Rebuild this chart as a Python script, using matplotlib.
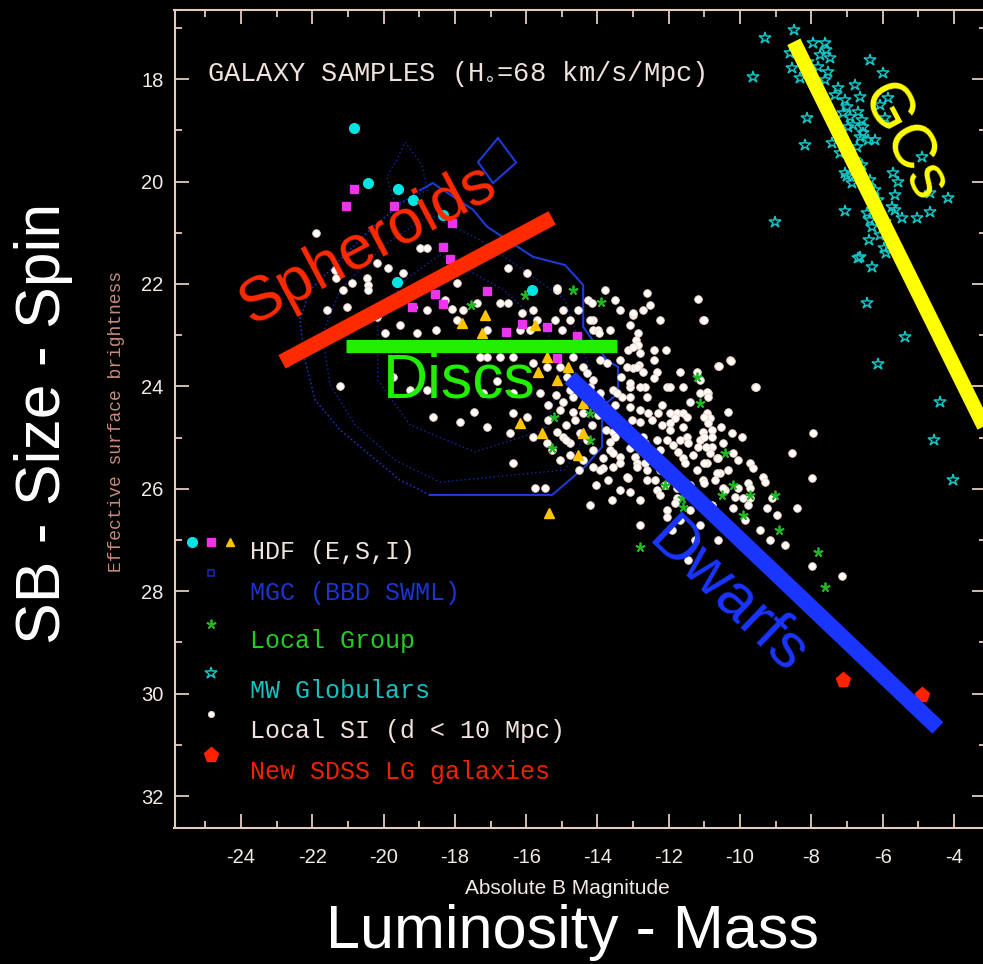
import matplotlib
matplotlib.use("Agg")
import matplotlib.pyplot as plt
from matplotlib.ticker import MultipleLocator

plt.rcParams['font.family'] = ['Liberation Sans', 'DejaVu Sans']
plt.rcParams['axes.unicode_minus'] = False

# Local SI galaxies (d < 10 Mpc): (M_B, effective SB)
local_si = [
    (-15.13, 22.12), (-14.26, 22.31), (-14.15, 22.37), (-12.61, 22.18), (-11.18, 22.29),
    (-11.04, 22.70), (-12.72, 22.51), (-13.00, 22.60), (-13.09, 22.80), (-14.96, 22.51),
    (-14.54, 22.51), (-15.19, 22.70), (-14.77, 22.70), (-14.12, 22.70), (-14.12, 22.90),
    (-13.98, 22.90), (-14.99, 22.90), (-12.86, 22.96), (-12.92, 23.09), (-12.86, 23.19),
    (-13.14, 23.29), (-12.41, 23.29), (-12.08, 23.29), (-10.28, 23.49), (-10.62, 23.60),
    (-12.41, 23.49), (-12.83, 23.58), (-13.00, 23.64), (-12.72, 23.72), (-12.33, 23.72),
    (-12.41, 23.84), (-11.69, 23.72), (-11.21, 23.72), (-12.05, 24.01), (-11.97, 24.01),
    (-11.60, 24.01), (-11.12, 23.88), (-9.58, 24.01), (-13.09, 24.01), (-12.67, 24.01),
    (-13.31, 24.21), (-13.09, 24.21), (-12.61, 24.21), (-11.12, 24.13), (-10.90, 24.13),
    (-11.40, 24.31), (-12.19, 24.36), (-13.09, 24.40), (-12.81, 24.46), (-13.51, 24.36),
    (-11.97, 24.52), (-11.77, 24.52), (-11.60, 24.52), (-11.83, 24.62), (-11.49, 24.60),
    (-10.93, 24.52), (-10.84, 24.62), (-10.34, 24.50), (-12.58, 24.52), (-12.30, 24.52),
    (-13.03, 24.66), (-12.81, 24.70), (-13.59, 24.66), (-11.97, 24.72), (-11.97, 24.85),
    (-11.60, 24.79), (-11.04, 24.89), (-10.79, 24.85), (-10.23, 24.91), (-9.95, 24.99),
    (-7.96, 24.91), (-13.56, 24.89), (-13.51, 24.99), (-12.72, 24.99), (-12.67, 25.11),
    (-12.33, 25.05), (-12.25, 25.24), (-12.05, 25.05), (-11.88, 25.14), (-11.74, 25.28),
    (-11.49, 24.99), (-11.46, 25.11), (-11.12, 25.05), (-11.18, 25.18), (-10.79, 25.18),
    (-10.84, 25.30), (-10.48, 25.11), (-8.54, 25.30), (-13.65, 25.09), (-13.65, 25.24),
    (-13.09, 25.20), (-12.95, 25.38), (-13.37, 25.38), (-13.37, 25.50), (-12.89, 25.50),
    (-12.67, 25.50), (-12.61, 25.63), (-12.33, 25.38), (-11.60, 25.40), (-11.54, 25.50),
    (-11.21, 25.63), (-10.93, 25.50), (-10.65, 25.40), (-10.56, 25.69), (-10.20, 25.30),
    (-9.72, 25.50), (-9.64, 25.59), (-9.35, 25.77), (-9.30, 25.87), (-7.99, 25.79),
    (-13.85, 25.59), (-13.14, 25.79), (-12.61, 25.83), (-12.39, 25.83), (-12.11, 25.93),
    (-11.77, 25.98), (-11.40, 25.93), (-11.04, 25.83), (-12.33, 26.03), (-12.25, 26.12),
    (-11.77, 26.18), (-11.83, 26.28), (-10.42, 26.03), (-10.14, 26.16), (-9.92, 26.18),
    (-9.72, 26.18), (-9.78, 26.32), (-9.10, 26.18), (-8.40, 26.37), (-9.24, 26.37),
    (-8.96, 26.51), (-10.20, 26.37), (-14.21, 26.32), (-12.81, 26.71), (-12.05, 26.42),
    (-12.05, 26.55), (-11.91, 26.81), (-10.62, 27.00), (-8.74, 27.10), (-7.99, 27.50),
    (-7.15, 27.70), (-11.46, 27.39),
    (-21.89, 21.00), (-21.22, 23.99), (-21.36, 21.72), (-21.33, 21.88), (-21.14, 22.12),
    (-20.88, 21.98), (-21.02, 22.45), (-21.59, 22.51), (-20.46, 21.88), (-20.44, 22.02),
    (-20.44, 22.12), (-20.18, 21.59), (-19.88, 21.69), (-19.46, 21.79), (-18.98, 21.30),
    (-18.78, 21.30), (-18.08, 20.81), (-17.94, 21.98), (-18.28, 22.31), (-18.08, 22.49),
    (-18.78, 22.51), (-19.18, 22.45), (-19.54, 22.80), (-19.96, 22.96), (-19.07, 22.96),
    (-20.18, 22.64), (-17.94, 22.70), (-17.77, 22.51), (-17.38, 22.37), (-17.10, 22.90),
    (-16.73, 22.37), (-16.51, 22.37), (-16.51, 21.69), (-15.97, 21.79), (-16.11, 22.56),
    (-15.81, 22.51), (-15.69, 22.70), (-16.17, 22.90), (-15.89, 22.90), (-15.13, 22.08),
    (-14.21, 22.70), (-13.96, 22.96), (-18.53, 22.90), (-17.30, 23.43), (-17.10, 23.43),
    (-16.73, 23.43), (-16.37, 23.43), (-15.81, 23.54), (-15.42, 23.62), (-15.05, 23.62),
    (-14.68, 23.43), (-14.40, 23.62), (-14.85, 23.82), (-14.57, 23.88), (-14.29, 23.74),
    (-14.12, 23.88), (-13.93, 23.49), (-13.73, 23.54), (-13.00, 22.56), (-13.00, 23.23),
    (-12.81, 23.35), (-13.37, 23.49), (-13.17, 23.62), (-12.89, 23.62), (-12.81, 24.01),
    (-13.34, 23.82), (-13.09, 23.93), (-13.56, 24.07), (-13.45, 24.13), (-13.93, 24.13),
    (-13.93, 24.27), (-14.21, 24.01), (-14.40, 24.13), (-14.77, 24.07), (-14.68, 24.21),
    (-14.96, 24.31), (-15.05, 24.46), (-14.68, 24.50), (-14.40, 24.52), (-16.37, 24.52),
    (-15.97, 24.60), (-17.47, 24.50), (-17.86, 24.69), (-18.62, 24.60), (-17.10, 24.79),
    (-16.45, 24.91), (-15.81, 24.99), (-15.42, 25.11), (-14.96, 24.99), (-14.77, 25.11),
    (-14.49, 24.91), (-14.29, 25.05), (-14.12, 25.24), (-14.12, 25.57), (-14.40, 25.44),
    (-13.56, 25.30), (-12.89, 25.57), (-13.56, 25.57), (-13.17, 25.77), (-16.37, 25.50),
    (-15.75, 25.98), (-15.47, 25.98), (-19.74, 23.82), (-19.26, 24.07), (-18.78, 24.07),
    (-16.81, 23.90), (-15.61, 24.13), (-16.37, 24.13), (-17.21, 24.13),
    (-11.01, 22.70), (-10.59, 23.60), (-10.25, 23.50), (-9.55, 24.01), (-10.93, 24.11),
    (-10.90, 24.21), (-11.01, 24.60), (-10.90, 24.72), (-10.54, 24.79), (-11.01, 24.99),
    (-10.79, 24.99), (-10.96, 25.18), (-10.62, 25.40), (-11.01, 25.50), (-10.65, 25.69),
    (-11.01, 25.89), (-9.78, 25.89), (-9.72, 25.98), (-10.48, 25.98), (-10.06, 25.98),
    (-15.39, 24.36), (-15.16, 24.17), (-14.88, 24.75), (-14.63, 24.66), (-14.15, 24.75),
    (-13.98, 24.56), (-13.76, 24.85), (-15.27, 25.24), (-15.05, 25.44), (-14.77, 25.34),
    (-14.52, 25.63), (-13.93, 25.63), (-13.70, 25.83), (-14.04, 25.93), (-13.37, 26.02),
    (-13.59, 26.22), (-13.09, 26.06), (-12.81, 26.22), (-13.85, 25.40), (-14.88, 25.05),
    (-15.39, 24.66), (-15.13, 24.89), (-12.47, 24.66), (-12.19, 24.75), (-11.69, 25.05),
    (-11.32, 25.34), (-11.04, 26.22), (-10.79, 26.31), (-11.40, 26.41), (-11.69, 26.61),
    (-11.12, 26.71), (-10.56, 26.61), (-10.28, 26.80), (-9.86, 26.61), (-9.44, 26.80),
    (-9.16, 27.00), (-10.00, 27.00), (-11.26, 27.00), (-12.39, 25.34), (-12.81, 25.24),
    (-12.25, 25.63), (-10.70, 25.83), (-10.34, 25.63), (-10.06, 25.44), (-13.79, 22.12),
    (-13.51, 22.31), (-13.37, 22.51), (-12.53, 22.41), (-12.25, 22.70), (-13.65, 22.90),
]

# Milky Way globular clusters
mw_globulars = [
    (-8.49, 17.04), (-9.30, 17.19), (-9.63, 17.95), (-7.96, 17.30), (-7.62, 17.30),
    (-7.59, 17.43), (-8.60, 17.49), (-8.54, 17.78), (-8.32, 17.98), (-7.82, 17.76),
    (-7.54, 17.86), (-7.62, 18.01), (-7.26, 18.17), (-6.78, 18.11), (-6.64, 18.35),
    (-6.36, 17.62), (-5.99, 17.88), (-5.85, 18.37), (-6.08, 18.50), (-7.00, 18.54),
    (-6.92, 18.74), (-7.12, 18.66), (-6.84, 18.89), (-6.98, 18.93), (-6.56, 18.93),
    (-6.56, 19.05), (-6.64, 19.13), (-6.72, 19.32), (-5.93, 18.76), (-8.12, 18.76),
    (-8.18, 19.28), (-7.42, 19.24), (-7.20, 19.44), (-7.00, 19.90), (-6.86, 20.03),
    (-7.06, 19.83), (-5.71, 19.83), (-5.57, 20.01), (-4.90, 19.52), (-4.67, 20.23),
    (-4.17, 20.32), (-7.06, 20.57), (-6.44, 20.61), (-6.36, 20.75), (-6.30, 20.88),
    (-5.74, 20.49), (-5.65, 20.55), (-5.04, 20.71), (-4.67, 20.59), (-9.02, 20.79),
    (-6.39, 21.14), (-5.97, 21.30), (-5.91, 21.39), (-6.64, 21.47), (-6.69, 21.49),
    (-6.30, 21.67), (-6.44, 22.37), (-5.37, 23.03), (-6.13, 23.56), (-4.39, 24.30),
    (-4.56, 25.05), (-4.03, 25.83),
    (-7.76, 17.52), (-7.48, 17.58), (-8.09, 17.66), (-7.34, 18.31), (-7.06, 18.40),
    (-6.69, 18.64), (-6.58, 18.80), (-6.41, 19.19), (-6.78, 19.58), (-6.58, 19.67),
    (-6.36, 19.97), (-6.22, 20.17), (-6.13, 20.36), (-5.93, 20.79), (-6.08, 21.04),
    (-5.79, 21.14), (-5.46, 20.71), (-5.65, 20.26), (-6.22, 19.19),
]

# Local Group dwarfs
local_group = [
    (-14.68, 22.12), (-13.90, 22.35), (-11.21, 23.82), (-11.12, 24.32), (-15.22, 24.59),
    (-14.21, 24.52), (-15.28, 25.20), (-14.21, 25.05), (-10.42, 25.30), (-12.11, 25.93),
    (-11.63, 26.18), (-11.60, 26.36), (-10.51, 26.12), (-10.20, 25.93), (-9.72, 26.12),
    (-9.92, 26.51), (-9.02, 26.12), (-8.91, 26.81), (-7.82, 27.23), (-7.62, 27.92),
    (-12.81, 27.14), (-16.02, 22.21), (-17.56, 22.41),
]

# HDF ellipticals, spirals, irregulars
hdf_e = [(-20.83, 18.95), (-20.44, 20.03), (-19.60, 20.14), (-19.18, 20.36),
         (-18.34, 20.65), (-19.62, 21.96), (-15.83, 22.12)]
hdf_s = [(-20.83, 20.15), (-21.06, 20.48), (-19.71, 20.48), (-18.34, 21.28),
         (-18.14, 21.51), (-18.56, 22.19), (-18.34, 22.39), (-19.21, 22.45),
         (-17.10, 22.14), (-16.56, 22.93), (-16.11, 22.78), (-15.41, 22.84),
         (-14.57, 23.01), (-15.13, 23.44), (-18.08, 20.81)]
hdf_i = [(-17.80, 22.76), (-17.16, 22.60), (-17.24, 22.96), (-15.75, 22.80),
         (-15.42, 23.43), (-15.67, 23.72), (-15.13, 23.88), (-16.17, 24.72),
         (-15.55, 24.91), (-14.41, 24.32), (-14.55, 25.34), (-14.83, 23.62),
         (-14.41, 24.91), (-15.36, 26.47)]

# New SDSS Local Group galaxies
sdss_new = [(-7.11, 29.73), (-4.90, 30.03)]

# MGC bivariate brightness distribution contours
mgc_outer_solid = [
    (-18.98, 20.17), (-18.62, 20.03), (-17.49, 20.55), (-17.10, 20.88), (-15.81, 21.47),
    (-14.91, 21.63), (-14.40, 22.02), (-14.40, 22.84), (-13.73, 23.49), (-13.42, 23.62),
    (-13.42, 24.13), (-13.87, 24.40), (-13.87, 25.18), (-14.35, 25.57), (-15.27, 26.12),
    (-18.70, 26.12),
]
mgc_outer_dotted = [
    (-18.70, 26.12), (-19.54, 25.83), (-20.38, 25.34), (-21.22, 24.85), (-21.92, 24.27),
    (-22.20, 23.49), (-22.35, 22.70), (-22.06, 22.12), (-21.22, 21.53), (-20.38, 20.94),
    (-19.54, 20.45), (-18.98, 20.17),
]
mgc_diamond = [(-16.79, 19.15), (-16.28, 19.63), (-16.93, 20.03), (-17.35, 19.62), (-16.79, 19.15)]
mgc_spike = [(-19.40, 19.23), (-18.93, 19.67), (-18.76, 20.17), (-19.68, 20.45),
             (-19.91, 19.91), (-19.63, 19.58), (-19.40, 19.23)]
mgc_ring2 = [
    (-18.70, 20.65), (-17.30, 21.14), (-15.89, 21.82), (-14.91, 22.31), (-14.54, 23.09),
    (-14.07, 23.88), (-14.26, 24.85), (-14.91, 25.63), (-18.42, 25.87), (-19.68, 25.44),
    (-20.80, 24.75), (-21.50, 23.97), (-21.72, 22.99), (-21.22, 22.12), (-19.96, 21.23),
    (-18.70, 20.65),
]
mgc_ring3 = [
    (-18.42, 21.43), (-16.62, 22.12), (-15.41, 22.90), (-15.02, 23.88), (-15.50, 24.85),
    (-17.44, 25.28), (-19.26, 24.75), (-20.16, 23.88), (-20.16, 22.70), (-19.40, 21.92),
    (-18.42, 21.43),
]

# sequence guide lines: (start, end) in (M_B, SB)
spheroid_line = [(-22.85, 23.52), (-15.27, 20.71)]
disc_line = [(-21.05, 23.21), (-13.45, 23.21)]
dwarf_line = [(-14.77, 23.83), (-4.45, 30.67)]
gc_line = [(-8.49, 17.27), (-2.71, 25.41)]

legend_rows = ['HDF (E,S,I)', 'MGC (BBD SWML)', 'Local Group', 'MW Globulars',
               'Local SI (d < 10 Mpc)', 'New SDSS LG galaxies']

axis_col = '#e4cbc0'
label_col = '#f3e9e5'
mono = ['Liberation Mono', 'DejaVu Sans Mono']


def split(points):
    return [p[0] for p in points], [p[1] for p in points]


fig = plt.figure(figsize=(9.83, 9.64), dpi=100, facecolor='black')
ax = fig.add_axes([174.5 / 983, 1 - 828.3 / 964, 811.5 / 983, 818.3 / 964])
ax.set_facecolor('black')
ax.set_xlim(-25.865, -3.10)
ax.set_ylim(32.63, 16.65)

for spine in ax.spines.values():
    spine.set_color(axis_col)
    spine.set_linewidth(1.5)
ax.xaxis.set_major_locator(MultipleLocator(2))
ax.xaxis.set_minor_locator(MultipleLocator(1))
ax.yaxis.set_major_locator(MultipleLocator(2))
ax.yaxis.set_minor_locator(MultipleLocator(1))
ax.tick_params(which='both', direction='in', top=True, right=True, color=axis_col, width=1.3)
ax.tick_params(which='major', length=10)
ax.tick_params(which='minor', length=5)
ax.tick_params(axis='x', which='major', pad=14, labelsize=14.5, labelcolor=label_col)
ax.tick_params(axis='y', which='major', pad=8, labelsize=14.5, labelcolor=label_col)

# MGC contours
for ring in (mgc_ring2, mgc_ring3, mgc_spike):
    x, y = split(ring)
    ax.plot(x, y, color='#1428a8', lw=1.0, ls=(0, (1, 2)))
x, y = split(mgc_outer_dotted)
ax.plot(x, y, color='#1a30b8', lw=1.2, ls=(0, (1, 1.5)))
x, y = split(mgc_outer_solid)
ax.plot(x, y, color='#1c3ad6', lw=1.5)
x, y = split(mgc_diamond)
ax.plot(x, y, color='#1c3ad6', lw=1.5)

# samples
x, y = split(local_si)
ax.plot(x, y, 'o', ms=5.5, mfc='#fffcfa', mec='#f0d2c6', mew=0.6)
x, y = split(local_group)
ax.plot(x, y, ls='none', marker=(5, 2, 0), ms=7, mec='#22b822', mew=1.3)
x, y = split(mw_globulars)
ax.plot(x, y, '*', ms=9, mfc='none', mec='#14c4c4', mew=1.1)
x, y = split(hdf_e)
ax.plot(x, y, 'o', ms=7, color='#00e4e4')
x, y = split(hdf_s)
ax.plot(x, y, 's', ms=6, color='#ee33ee')
x, y = split(hdf_i)
ax.plot(x, y, '^', ms=6.5, color='#ffc400')
x, y = split(sdss_new)
ax.plot(x, y, 'p', ms=11, color='#ff2200')

# sequence guides
for seg, col, lw in [(spheroid_line, '#ff2a00', 11), (disc_line, '#22ee00', 9.5),
                     (dwarf_line, '#1a35ff', 11.5), (gc_line, '#ffff00', 10.5)]:
    x, y = split(seg)
    ax.plot(x, y, color=col, lw=lw, solid_capstyle='butt', zorder=5)

big = dict(family=['Liberation Sans', 'DejaVu Sans'], fontsize=45, ha='center', va='center', zorder=6)
ax.text(-20.44, 21.24, 'Spheroids', color='#ff2a00', rotation=28, **big)
ax.text(-17.88, 23.89, 'Discs', color='#22ee00', **big)
ax.text(-10.34, 28.11, 'Dwarfs', color='#1a35ff', rotation=-43.8, **big)
ax.text(-5.43, 19.24, 'GCs', color='#ffff00', rotation=-62, **big)

# in-panel title
ax.text(-24.95, 18.03, r'GALAXY SAMPLES (H$_{\circ}$=68 km/s/Mpc)', family=mono,
        fontsize=19.5, color='#efe2dc', va='baseline')

# hand-placed key
row_y = [27.37, 28.17, 29.11, 30.08, 30.87, 31.67]
row_col = ['#f0e2dc', '#1a35d0', '#22cc22', '#19c0c0', '#f0e2dc', '#ee2200']
for label, yy, col in zip(legend_rows, row_y, row_col):
    ax.text(-23.75, yy, label, family=mono, fontsize=18, color=col, va='baseline')
key_x = -24.84
ax.plot([-25.38], [27.04], 'o', ms=7, color='#00e4e4')
ax.plot([key_x], [27.04], 's', ms=6, color='#ee33ee')
ax.plot([-24.31], [27.04], '^', ms=6, color='#ffc400')
ax.plot([key_x], [27.64], 's', ms=5, mfc='none', mec='#1428a8', mew=1.2)
ax.plot([key_x], [28.64], ls='none', marker=(5, 2, 0), ms=7, mec='#22b822', mew=1.3)
ax.plot([key_x], [29.60], '*', ms=9, mfc='none', mec='#14c4c4', mew=1.1)
ax.plot([key_x], [30.40], 'o', ms=4.5, mfc='#fffcfa', mec='#f0d2c6', mew=0.6)
ax.plot([key_x], [31.20], 'p', ms=11, color='#ff2200')

# axis titles
fig.text(567 / 983, 1 - 888 / 964, 'Absolute B Magnitude', fontsize=15,
         color=label_col, ha='center', va='center')
fig.text(117 / 983, 1 - 421 / 964, 'Effective surface brightness', family=mono,
         fontsize=13, color='#c88a7a', rotation=90, ha='center', va='center')
fig.text(572 / 983, 1 - 948 / 964, 'Luminosity - Mass', fontsize=44,
         color='white', ha='center', va='baseline')
fig.text(44 / 983, 1 - 423 / 964, 'SB - Size - Spin', fontsize=45,
         color='white', rotation=90, ha='center', va='center')

fig.savefig('out.png', dpi=100, facecolor='black')
